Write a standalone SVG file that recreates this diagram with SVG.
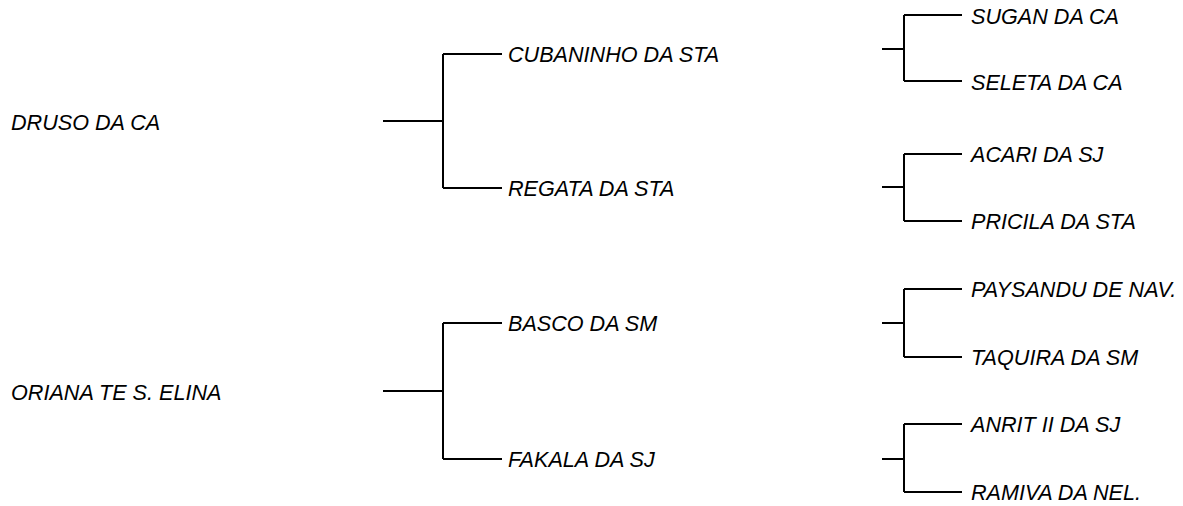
<svg xmlns="http://www.w3.org/2000/svg" width="1183" height="506" viewBox="0 0 1183 506">
<style>
text{font-family:"Liberation Sans",Arial,sans-serif;font-style:italic;font-size:21.6px;fill:#000}
.c path{fill:none;stroke:#000;stroke-width:2}
</style>
<rect width="1183" height="506" fill="#fff"/>
<g class="c" id="connectors">
<path d="M383 121H443M443 54V188M443 54H502M443 188H502"/>
<path d="M383 391H443M443 323V459M443 323H502M443 459H502"/>
<path d="M882 49H904M904 15V81M904 15H962M904 81H962"/>
<path d="M882 187H904M904 154V221M904 154H962M904 221H962"/>
<path d="M882 323H904M904 289V357M904 289H962M904 357H962"/>
<path d="M882 459H904M904 424V492M904 424H962M904 492H962"/>
</g>
<g id="n1"><text x="11" y="130">DRUSO DA CA</text></g>
<g id="n2"><text x="11" y="400">ORIANA TE S. ELINA</text></g>
<g id="n3"><text x="508" y="62">CUBANINHO DA STA</text></g>
<g id="n4"><text x="508" y="196">REGATA DA STA</text></g>
<g id="n5"><text x="508" y="331">BASCO DA SM</text></g>
<g id="n6"><text x="508" y="467">FAKALA DA SJ</text></g>
<g id="n7"><text x="971" y="24">SUGAN DA CA</text></g>
<g id="n8"><text x="971" y="90">SELETA DA CA</text></g>
<g id="n9"><text x="971" y="162">ACARI DA SJ</text></g>
<g id="n10"><text x="971" y="229">PRICILA DA STA</text></g>
<g id="n11"><text x="971" y="297">PAYSANDU DE NAV.</text></g>
<g id="n12"><text x="971" y="365">TAQUIRA DA SM</text></g>
<g id="n13"><text x="971" y="432">ANRIT II DA SJ</text></g>
<g id="n14"><text x="971" y="500">RAMIVA DA NEL.</text></g>
</svg>
